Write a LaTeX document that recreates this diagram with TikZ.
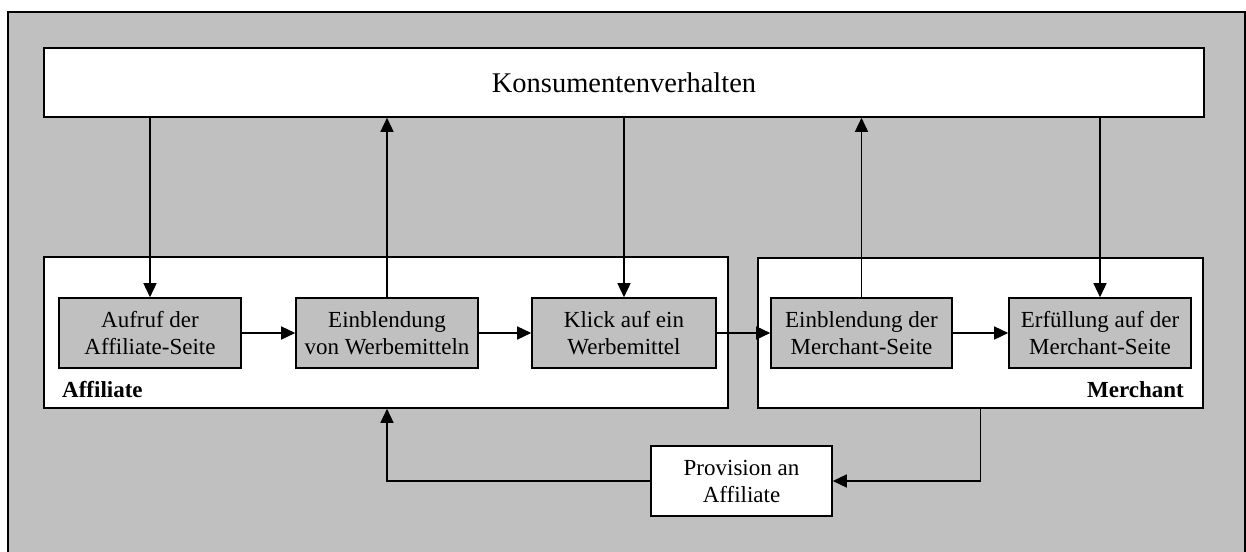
\documentclass[tikz,border=0pt]{standalone}
\usepackage{fontspec}
\setmainfont{Liberation Serif}
\usetikzlibrary{arrows.meta}
\definecolor{bggray}{RGB}{192,192,192}
\begin{document}
\begin{tikzpicture}[x=1pt,y=-1pt,
  outerframe/.style={draw, line width=2.5pt, fill=bggray},
  wbox/.style={draw, fill=white, line width=1.6pt, rectangle, inner sep=0pt},
  gbox/.style={draw, fill=bggray, line width=1.6pt, rectangle, inner sep=0pt, minimum height=70pt, minimum width=182pt, align=center, font=\fontsize{23}{27}\selectfont},
  arr/.style={-{Triangle[length=14pt,width=13pt]}, line width=1.5pt},
  ln/.style={line width=1.5pt},
  lbl/.style={font=\bfseries\fontsize{23}{27}\selectfont, inner sep=0pt}
]
\useasboundingbox (0,0) rectangle (1246,551);
\draw[outerframe] (8,12) rectangle (1245,570);

\node[wbox, minimum width=1160pt, minimum height=69pt, font=\fontsize{28.5}{32}\selectfont] (K) at (624,82.5) {Konsumentenverhalten};

\node[wbox, minimum width=684pt, minimum height=151pt] (AffBox) at (386,332.5) {};
\node[wbox, minimum width=445pt, minimum height=150pt] (MerBox) at (980.5,333) {};

\node[gbox] (Auf) at (150,333) {Aufruf der\\Affiliate-Seite};
\node[gbox] (Ein) at (387,333) {Einblendung\\von Werbemitteln};
\node[gbox, minimum width=184pt] (Kli) at (624,333) {Klick auf ein\\Werbemittel};
\node[gbox, minimum width=181pt] (EinM) at (861.5,333) {Einblendung der\\Merchant-Seite};
\node[gbox] (Erf) at (1100,333) {Erfüllung auf der\\Merchant-Seite};

\node[wbox, minimum width=181pt, minimum height=70pt, align=center, font=\fontsize{23}{27}\selectfont] (Prov) at (741.5,481) {Provision an\\Affiliate};

\node[lbl, anchor=west] (LAff) at (62,390) {Affiliate};
\node[lbl, anchor=east] (LMer) at (1184,390) {Merchant};

% vertical connectors
\draw[arr] (Auf.north |- K.south) -- (Auf.north);
\draw[arr] (Ein.north) -- (Ein.north |- K.south);
\draw[arr] (Kli.north |- K.south) -- (Kli.north);
\draw[arr] (EinM.north) -- (EinM.north |- K.south);
\draw[arr] (Erf.north |- K.south) -- (Erf.north);

% horizontal connectors
\draw[arr] (Auf.east) -- (Ein.west);
\draw[arr] (Ein.east) -- (Kli.west);
\draw[arr] (Kli.east) -- (EinM.west);
\draw[arr] (EinM.east) -- (Erf.west);

% provision loop
\coordinate (mdown) at (MerBox.south |- Prov.east);
\draw[arr] (MerBox.south) -- (mdown) -- (Prov.east);
\coordinate (aleft) at (Ein.south |- Prov.west);
\draw[arr] (Prov.west) -- (aleft) -- (aleft |- AffBox.south);
\end{tikzpicture}
\end{document}
